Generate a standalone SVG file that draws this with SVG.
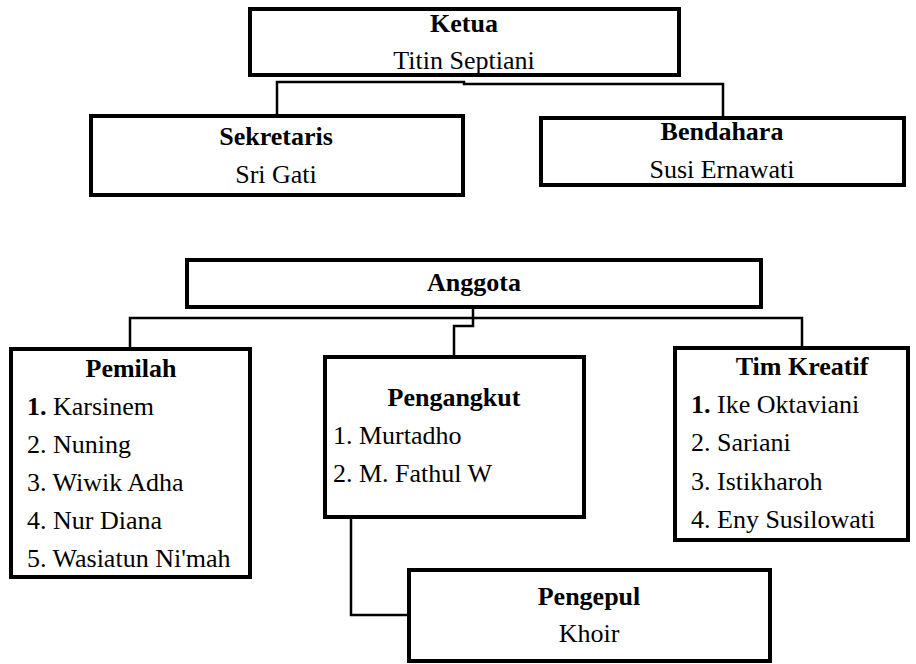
<svg xmlns="http://www.w3.org/2000/svg" width="916" height="664" viewBox="0 0 916 664">
<style>
.box{fill:#fff;stroke:#000;stroke-width:4}
.conn{fill:none;stroke:#000;stroke-width:2.5}
text{font-family:"Liberation Serif","Times New Roman",serif;font-size:26px;fill:#000}
.h{font-weight:bold;text-anchor:middle}
.c{text-anchor:middle}
.b{font-weight:bold}
</style>
<rect width="916" height="664" fill="#fff"/>
<g id="connectors">
<path class="conn" d="M277,115 V82 H464 V84 H723 V117"/>
<path class="conn" d="M130,347 V318 H802 V347"/>
<path class="conn" d="M473,308 V326 H454 V356"/>
<path class="conn" d="M351,518 V615 H408"/>
</g>
<g id="ketua">
<rect class="box" x="250" y="9" width="429" height="66"/>
<text class="h" x="464" y="32">Ketua</text>
<text class="c" x="464" y="69">Titin Septiani</text>
</g>
<g id="sekretaris">
<rect class="box" x="91" y="116" width="372" height="79"/>
<text class="h" x="276" y="145">Sekretaris</text>
<text class="c" x="276" y="183">Sri Gati</text>
</g>
<g id="bendahara">
<rect class="box" x="541" y="118" width="363" height="67"/>
<text class="h" x="722" y="140">Bendahara</text>
<text class="c" x="722" y="178">Susi Ernawati</text>
</g>
<g id="anggota">
<rect class="box" x="187" y="260" width="574" height="47"/>
<text class="h" x="474" y="291">Anggota</text>
</g>
<g id="pemilah">
<rect class="box" x="11" y="349" width="239" height="228"/>
<text class="h" x="131" y="377">Pemilah</text>
<text x="27" y="415"><tspan class="b">1.</tspan> Karsinem</text>
<text x="27" y="453">2. Nuning</text>
<text x="27" y="491">3. Wiwik Adha</text>
<text x="27" y="529">4. Nur Diana</text>
<text x="27" y="567">5. Wasiatun Ni'mah</text>
</g>
<g id="pengangkut">
<rect class="box" x="325" y="357" width="259" height="160"/>
<text class="h" x="454" y="406">Pengangkut</text>
<text x="333" y="444">1. Murtadho</text>
<text x="333" y="482">2. M. Fathul W</text>
</g>
<g id="tim-kreatif">
<rect class="box" x="675" y="348" width="233" height="192"/>
<text class="h" x="802" y="375">Tim Kreatif</text>
<text x="691" y="413"><tspan class="b">1.</tspan> Ike Oktaviani</text>
<text x="691" y="451">2. Sariani</text>
<text x="691" y="490">3. Istikharoh</text>
<text x="691" y="528">4. Eny Susilowati</text>
</g>
<g id="pengepul">
<rect class="box" x="409" y="570" width="361" height="91"/>
<text class="h" x="589" y="605">Pengepul</text>
<text class="c" x="589" y="642">Khoir</text>
</g>
</svg>
